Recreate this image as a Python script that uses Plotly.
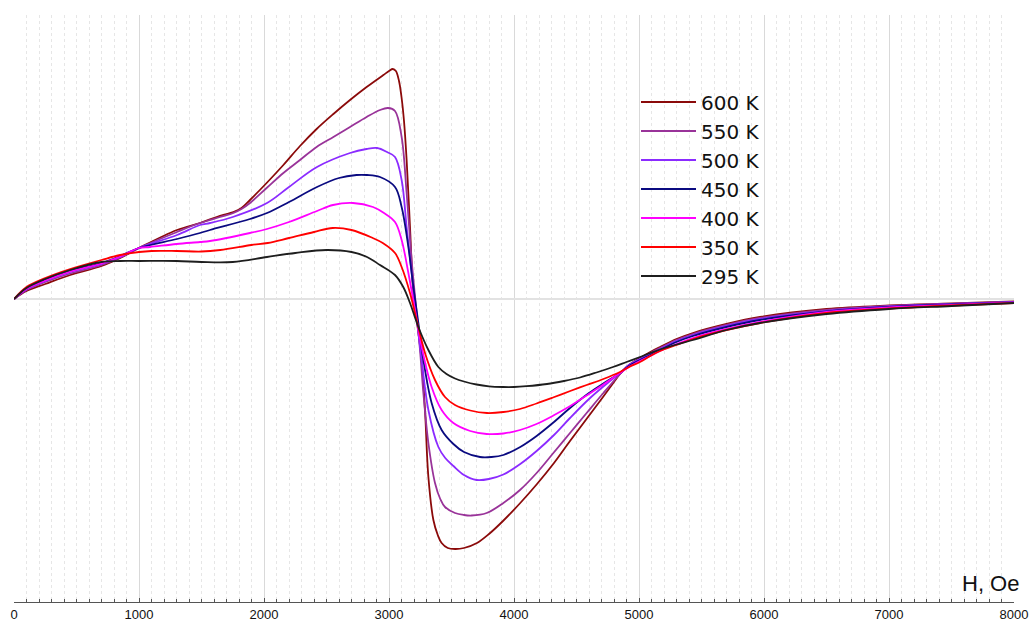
import plotly.graph_objects as go

# ---- data (H in Oe, signal in arbitrary units) ----
x_600 = [0, 100, 250, 450, 700, 850, 1000, 1304, 1488, 1621, 1700, 1755, 1820, 1888, 2021, 2155, 2288, 2421, 2555, 2688, 2821, 2955, 3000, 3030, 3055, 3080, 3100, 3120, 3141, 3168, 3195, 3229, 3261, 3288, 3315, 3355, 3390, 3421, 3470, 3530, 3600, 3704, 3800, 3912, 4050, 4184, 4320, 4448, 4580, 4712, 4800, 4848, 4920, 5008, 5090, 5168, 5300, 5432, 5700, 5968, 6500, 7000, 7500, 8000]
y_600 = [0, 8, 15, 24, 33, 41, 51, 69, 76, 82, 85, 87, 91, 99, 116, 134, 153, 170, 185, 199, 212, 224, 228, 230, 228, 218, 202, 178, 139, 72, 6, -28, -61, -111, -178, -221, -236, -244, -249, -250, -249, -244, -235, -222, -204, -185, -164, -142, -120, -98, -83, -75, -66, -59, -53, -48, -40, -34, -25, -18, -10, -6.5, -4.5, -2.5]

x_550 = [0, 100, 250, 450, 700, 850, 1000, 1304, 1488, 1648, 1755, 1820, 1888, 2021, 2155, 2288, 2421, 2555, 2688, 2821, 2928, 2992, 3048, 3101, 3141, 3181, 3221, 3248, 3275, 3315, 3368, 3410, 3448, 3528, 3600, 3660, 3781, 3915, 4048, 4181, 4315, 4448, 4581, 4715, 4848, 4920, 5008, 5090, 5168, 5300, 5432, 5700, 5968, 6500, 7000, 7500, 8000]
y_550 = [0, 9, 17, 25.5, 34, 41.5, 51, 67, 76, 82, 86, 90, 96, 111, 126, 139, 152, 162, 172, 182, 189, 191, 188, 162, 106, 39, -14, -51, -94, -144, -184, -200, -208, -214, -216, -216.5, -214, -204, -191, -174, -154, -134, -114, -94, -75, -66, -60, -54, -49, -41, -35, -26, -19, -11, -7, -5, -3]

x_500 = [0, 100, 250, 450, 700, 850, 1000, 1304, 1488, 1568, 1750, 2024, 2200, 2424, 2688, 2820, 2904, 2984, 3048, 3101, 3141, 3181, 3221, 3261, 3315, 3395, 3450, 3515, 3600, 3701, 3800, 3915, 4050, 4181, 4320, 4448, 4600, 4720, 4848, 4920, 5008, 5090, 5168, 5300, 5432, 5700, 5968, 6500, 7000, 7500, 8000]
y_500 = [0, 9.5, 18, 27, 35, 42, 51, 64, 74, 76, 82, 96, 112, 132, 146, 150, 151, 147, 142, 119, 72, 26, -18, -61, -111, -148, -159, -167, -176, -181, -180, -175.5, -165, -152, -136, -119, -100, -87, -74, -66, -60, -55, -50, -42, -36, -27, -20, -12, -7.5, -5, -3]

x_450 = [0, 100, 250, 450, 700, 850, 1000, 1304, 1488, 1568, 1888, 2024, 2200, 2424, 2600, 2740, 2824, 2928, 3048, 3101, 3155, 3195, 3235, 3275, 3341, 3421, 3515, 3600, 3728, 3820, 3915, 4050, 4181, 4320, 4448, 4600, 4720, 4848, 4920, 5008, 5090, 5168, 5300, 5432, 5700, 5968, 6500, 7000, 7500, 8000]
y_450 = [0, 10, 19, 28, 36, 43, 51, 60, 66, 69, 80, 86, 97, 112, 121, 124, 124, 122, 112, 92, 52, 12, -24, -61, -104, -131, -145, -153, -158, -158, -156, -148, -137, -123, -109, -94, -84, -74, -67, -61, -56, -51, -43, -37, -28, -21, -12.5, -8, -5.5, -3.5]

x_400 = [0, 100, 250, 450, 700, 850, 1000, 1088, 1300, 1488, 1568, 1888, 2024, 2200, 2424, 2552, 2712, 2872, 2960, 3048, 3101, 3155, 3208, 3261, 3341, 3421, 3515, 3650, 3781, 3915, 4048, 4180, 4315, 4450, 4581, 4715, 4848, 4920, 5008, 5090, 5168, 5300, 5432, 5700, 5968, 6500, 7000, 7500, 8000]
y_400 = [0, 10, 18.5, 27.5, 35.5, 42.5, 51, 52, 55, 57, 58, 66, 70, 77, 88, 94, 96, 92, 86, 77, 59, 26, -11, -48, -88, -111, -124, -132, -135, -134.5, -131, -125, -116.5, -107, -96.5, -85.5, -74, -68, -62, -57, -52, -45, -39, -30, -23, -13, -8.5, -6, -3.5]

x_350 = [0, 100, 250, 450, 700, 850, 1000, 1100, 1300, 1500, 1650, 1900, 2030, 2200, 2400, 2550, 2700, 2870, 2950, 3048, 3101, 3168, 3221, 3288, 3368, 3448, 3528, 3650, 3784, 3915, 4048, 4180, 4312, 4450, 4581, 4715, 4848, 4920, 5008, 5090, 5168, 5300, 5432, 5700, 5968, 6500, 7000, 7500, 8000]
y_350 = [0, 12, 21, 30, 39, 44, 47, 48, 48, 47.5, 49, 54, 56, 61, 67, 71, 69, 61, 56, 46, 32, 6, -21, -54, -81, -98, -106, -111.5, -114, -113, -110, -104.5, -98.5, -92, -86, -80, -73, -68, -63, -57, -52, -46, -40, -31, -24, -14, -9.5, -6.5, -4]

x_295 = [0, 100, 250, 450, 700, 850, 1000, 1300, 1500, 1750, 2024, 2250, 2500, 2700, 2824, 2928, 3048, 3114, 3168, 3235, 3315, 3395, 3460, 3528, 3600, 3700, 3800, 3912, 4000, 4100, 4264, 4400, 4528, 4660, 4792, 4900, 5008, 5090, 5168, 5300, 5432, 5700, 5968, 6500, 7000, 7500, 8000]
y_295 = [0, 11, 20, 29, 37, 38, 38, 38, 37, 37, 42, 46, 49, 47, 42, 34, 24, 12, -4, -28, -51, -68, -75, -79.5, -82.5, -85.5, -87.3, -88, -88, -87.2, -85, -82, -78.5, -73.5, -68, -63, -58, -54, -50.5, -45.5, -41, -31, -24, -15, -10, -7, -4]

series_names = ["600 K", "550 K", "500 K", "450 K", "400 K", "350 K", "295 K"]
series_x = [x_600, x_550, x_500, x_450, x_400, x_350, x_295]
series_y = [y_600, y_550, y_500, y_450, y_400, y_350, y_295]
series_colors = ["#8B0A0A", "#993399", "#8B2BFF", "#0A0A80", "#FF00FF", "#FF0000", "#1E1E1E"]

x_ticks = [0, 1000, 2000, 3000, 4000, 5000, 6000, 7000, 8000]

fig = go.Figure()
for name, xs, ys, col in zip(series_names, series_x, series_y, series_colors):
    fig.add_trace(go.Scatter(
        x=xs, y=ys, name=name, mode="lines",
        line=dict(color=col, width=1.8, shape="spline", smoothing=1.0),
    ))

fig.update_layout(
    width=1030, height=622,
    margin=dict(l=14, r=16, t=15, b=20),
    paper_bgcolor="white", plot_bgcolor="white",
    font=dict(family="Liberation Sans, Arial, sans-serif", color="#111"),
    showlegend=True,
    legend=dict(
        x=0.622, y=0.885, xanchor="left", yanchor="top",
        bgcolor="rgba(0,0,0,0)", borderwidth=0,
        font=dict(family="DejaVu Sans, Arial, sans-serif", size=20, color="#111"),
        itemwidth=55, tracegroupgap=0,
    ),
    annotations=[dict(
        text="H, Oe", xref="paper", yref="paper", x=1.007, y=0.032,
        xanchor="right", yanchor="middle", showarrow=False,
        font=dict(size=22, color="#111"),
    )],
)

fig.update_xaxes(
    range=[0, 8000], tickvals=x_ticks, ticktext=[str(v) for v in x_ticks],
    ticks="inside", ticklen=4, tickcolor="#555", tickwidth=1,
    showline=True, linecolor="#555", linewidth=1,
    showgrid=True, gridcolor="#d9d9d9", gridwidth=1,
    zeroline=False,
    tickfont=dict(family="Liberation Sans, Arial, sans-serif", size=13, color="#111"),
    ticklabelstandoff=0,
    minor=dict(dtick=100, ticks="inside", ticklen=3, tickcolor="#555",
               showgrid=True, gridcolor="#e6e6e6", griddash="dot", gridwidth=1),
    automargin=False, fixedrange=True,
)
fig.update_yaxes(
    range=[-303, 284], showgrid=False, showticklabels=False, ticks="",
    zeroline=True, zerolinecolor="#e2e2e2", zerolinewidth=2,
    showline=False, automargin=False, fixedrange=True,
)

# remove the default page margin so the 1030x622 figure fills the window exactly
fig.write_html(
    "out.html",
    config={"displayModeBar": False},
    post_script="document.body.style.margin='0px';document.body.style.overflow='hidden';",
)
